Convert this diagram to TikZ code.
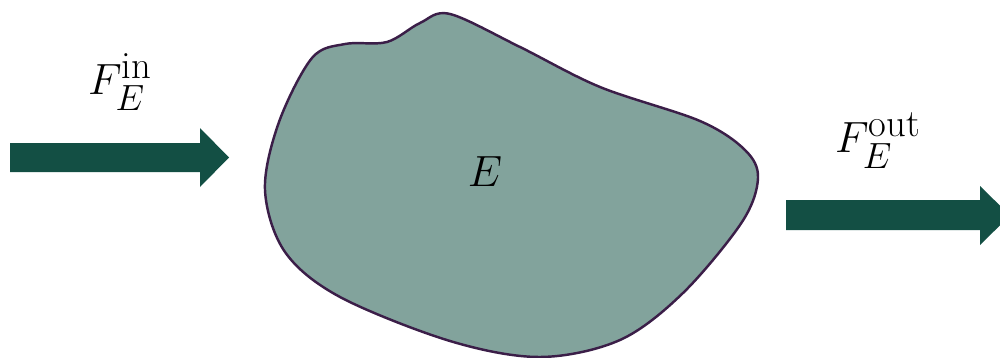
\documentclass[tikz,border=0pt]{standalone}
\usepackage{amsmath}
\usetikzlibrary{positioning}
\definecolor{blobfill}{HTML}{82A39C}
\definecolor{blobline}{HTML}{3B1E48}
\definecolor{flowgreen}{HTML}{134F44}
\newcommand{\suptext}[1]{\mbox{\fontsize{22}{26}\selectfont #1}}
\begin{document}
\begin{tikzpicture}[x=0.02cm, y=-0.02cm,
  flow/.style={fill=flowgreen},
  lbl/.style={font=\fontsize{28}{34}\selectfont, inner sep=0pt}]
\useasboundingbox (0,0) rectangle (1000,358);
\filldraw[fill=blobfill, draw=blobline, line width=1.4pt] plot[smooth cycle, tension=0.55] coordinates {
  (450,14) (520,47) (600,87) (700,121) (745,150) (758,178)
  (742,222) (683,293) (620,340) (540,357)
  (450,341) (340,297) (285,252) (265,190) (279,122)
  (312,58) (345,44) (387,42) (420,23)};
\node[font=\fontsize{31}{37}\selectfont, inner sep=0pt] (E) at (485,172) {$E$};
\fill[flow] (10,143) -- (200,143) -- (200,128) -- (229,157.5) -- (200,187) -- (200,172) -- (10,172) -- cycle;
\fill[flow] (786,200) -- (980,200) -- (980,186) -- (1010,215.5) -- (980,245) -- (980,230) -- (786,230) -- cycle;
\node[lbl] (fin) at (120,82) {$F_E^{\suptext{in}}$};
\node[lbl] (fout) at (878,141) {$F_E^{\suptext{out}}$};
\end{tikzpicture}
\end{document}
